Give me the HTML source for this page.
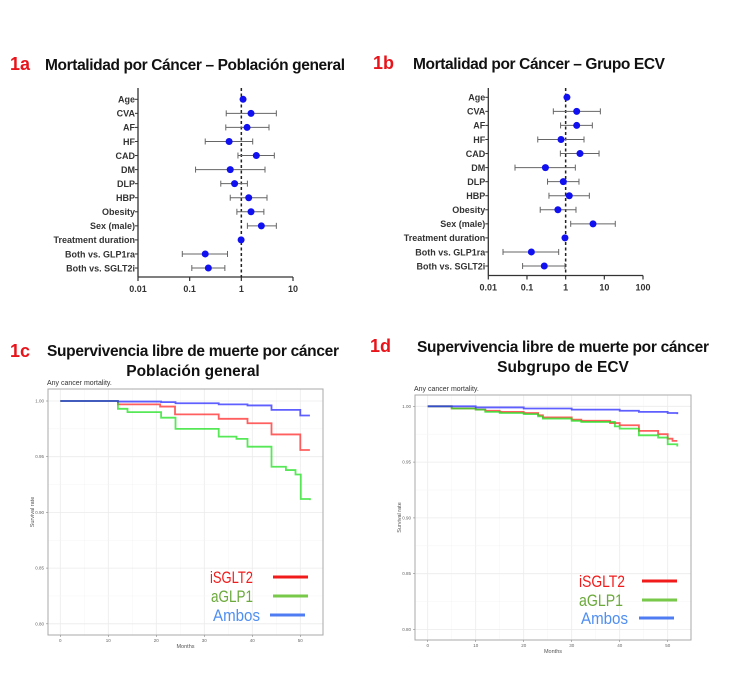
<!DOCTYPE html>
<html><head><meta charset="utf-8">
<style>
html,body{margin:0;padding:0;background:#fff;}
svg{display:block;font-family:"Liberation Sans",sans-serif;}
</style></head>
<body>
<svg id="fig" width="750" height="683" viewBox="0 0 750 683" xmlns="http://www.w3.org/2000/svg">
<g>
<text x="10" y="70" font-size="18" font-weight="bold" fill="#e8141b">1a</text>
<text x="45" y="70" font-size="15.5" font-weight="bold" fill="#111" textLength="300">Mortalidad por Cáncer – Población general</text>
</g>
<g>
<text x="373" y="69" font-size="18" font-weight="bold" fill="#e8141b">1b</text>
<text x="413" y="69" font-size="15.5" font-weight="bold" fill="#111" textLength="252">Mortalidad por Cáncer – Grupo ECV</text>
</g>
<g>
<text x="10" y="357" font-size="18" font-weight="bold" fill="#e8141b">1c</text>
<text x="193" y="356" font-size="15.5" font-weight="bold" fill="#111" text-anchor="middle" textLength="292">Supervivencia libre de muerte por cáncer</text>
<text x="193" y="376" font-size="15.5" font-weight="bold" fill="#111" text-anchor="middle">Población general</text>
</g>
<g>
<text x="370" y="352" font-size="18" font-weight="bold" fill="#e8141b">1d</text>
<text x="563" y="352" font-size="15.5" font-weight="bold" fill="#111" text-anchor="middle" textLength="292">Supervivencia libre de muerte por cáncer</text>
<text x="563" y="372" font-size="15.5" font-weight="bold" fill="#111" text-anchor="middle">Subgrupo de ECV</text>
</g>
<g id="g1a"></g>
<g id="g1b"></g>
<g id="g1c"></g>
<g id="g1d"></g>
</svg>
<script>
const NS="http://www.w3.org/2000/svg";
const labels=["Age","CVA","AF","HF","CAD","DM","DLP","HBP","Obesity","Sex (male)","Treatment duration","Both vs. GLP1ra","Both vs. SGLT2i"];
const hrA=[1.08,1.54,1.29,0.58,1.95,0.61,0.74,1.39,1.54,2.44,0.99,0.20,0.23];
const loA=[null,0.51,0.50,0.20,0.86,0.13,0.40,0.61,0.82,1.31,null,0.072,0.11];
const hiA=[null,4.76,3.43,1.66,4.35,2.87,1.31,3.14,2.73,4.76,null,0.54,0.48];
const ticksA=["0.01","0.1","1","10"];
const hrB=[1.08,1.93,1.93,0.76,2.35,0.30,0.87,1.24,0.63,5.1,0.96,0.13,0.28];
const loB=[null,0.48,0.74,0.19,0.73,0.049,0.34,0.37,0.22,1.35,null,0.024,0.077];
const hiB=[null,7.9,4.9,2.98,7.3,1.78,2.21,4.1,1.85,19.2,null,0.66,0.96];
const ticksB=["0.01","0.1","1","10","100"];
// KM 1c
const tRedC=[0,12,20.8,23.9,33,39,44,50,52];
const sRedC=[1,0.997,0.995,0.988,0.984,0.980,0.970,0.956,0.956];
const tGreenC=[0,12,14,21,24,33,36.7,39,44,47,49,50.1,52];
const sGreenC=[1,0.993,0.990,0.985,0.975,0.968,0.966,0.959,0.941,0.938,0.934,0.912,0.911];
const tBlueC=[0,12,21,24,33,39,44,50,52];
const sBlueC=[1,0.9995,0.999,0.998,0.997,0.996,0.992,0.987,0.987];
// KM 1d
const tRedD=[0,5,10,12,15,20,23,24,30,32,38,40,44,48,50,51,52];
const sRedD=[1,0.998,0.997,0.996,0.995,0.994,0.992,0.990,0.988,0.987,0.985,0.983,0.978,0.975,0.971,0.969,0.969];
const tGreenD=[0,5,10,12,15,20,23,24,30,32,39,40,44,48,50,52];
const sGreenD=[1,0.998,0.997,0.995,0.994,0.993,0.991,0.989,0.987,0.986,0.982,0.980,0.974,0.972,0.966,0.964];
const tBlueD=[0,10,20,30,40,44,50,52];
const sBlueD=[1,0.999,0.998,0.997,0.996,0.995,0.994,0.993];
const kmYTicks=["1.00","0.95","0.90","0.85","0.80"];
const kmXTicks=[0,10,20,30,40,50];

function el(p,tag,attrs,txt){const e=document.createElementNS(NS,tag);for(const k in attrs)e.setAttribute(k,attrs[k]);if(txt!=null)e.textContent=txt;p.appendChild(e);return e;}

function forest(id,hr,lo,hi,ticks,o){
  const g=document.getElementById(id);
  const dec=(o.x1-o.x0)/(ticks.length-1);
  const xs=v=>o.x0+(Math.log10(v)+2)*dec;
  const ys=i=>o.yTop+i*o.dy;
  let a=el(g,'line',{x1:o.x0,y1:o.axTop,x2:o.x0,y2:o.axY,stroke:'#333','stroke-width':1.3});
  
  a=el(g,'line',{x1:o.x0,y1:o.axY,x2:o.x1,y2:o.axY,stroke:'#333','stroke-width':1.3});
  
  ticks.forEach((t,i)=>{const x=xs(parseFloat(t));
    el(g,'line',{x1:x,y1:o.axY,x2:x,y2:o.axY+4,stroke:'#333','stroke-width':1.2});
    const tx=el(g,'text',{x:x,y:o.axY+15,'font-size':9,'font-weight':'bold','text-anchor':'middle',fill:'#333'},t);
    });
  const ref=el(g,'line',{x1:xs(1),y1:o.axTop,x2:xs(1),y2:o.axY,stroke:'#222','stroke-width':1.5,'stroke-dasharray':'3,2.5'});
  
  labels.forEach((l,i)=>{const y=ys(i);
    el(g,'line',{x1:o.x0-3,y1:y,x2:o.x0,y2:y,stroke:'#333','stroke-width':1});
    const t=el(g,'text',{x:o.x0-3,y:y+3.3,'font-size':9,'font-weight':'bold','text-anchor':'end',fill:'#333'},l);
    
    if(lo[i]!=null){const ci=el(g,'g',{stroke:'#666','stroke-width':1});
      
      el(ci,'line',{x1:xs(lo[i]),y1:y,x2:xs(hi[i]),y2:y});
      el(ci,'line',{x1:xs(lo[i]),y1:y-3,x2:xs(lo[i]),y2:y+3});
      el(ci,'line',{x1:xs(hi[i]),y1:y-3,x2:xs(hi[i]),y2:y+3});}
    const c=el(g,'circle',{cx:xs(hr[i]),cy:y,r:3.5,fill:'#1010f0'});
    
  });
}
forest('g1a',hrA,loA,hiA,ticksA,{x0:138,x1:293,yTop:99.3,dy:14.06,axTop:88,axY:277});
forest('g1b',hrB,loB,hiB,ticksB,{x0:488.3,x1:643,yTop:97.3,dy:14.06,axTop:88,axY:275.5});

function km(id,o,series){
  const g=document.getElementById(id);
  const xs=t=>o.xz+t*o.px;
  const ys=v=>o.y100+(1-v)/0.05*o.py;
  const sub=el(g,'text',{x:o.bx0-1,y:o.by0-4,'font-size':7,fill:'#333'},'Any cancer mortality.');
  
  for(let i=-0.5;i<=5;i+=0.5){const x=xs(i*10);if(x<o.bx0||x>o.bx1)continue;
    el(g,'line',{x1:x,y1:o.by0,x2:x,y2:o.by1,stroke:i%1?'#f4f4f4':'#ebebeb','stroke-width':i%1?0.5:0.8});}
  for(let i=0;i<=8;i++){const y=o.y100+i*o.py/2;
    el(g,'line',{x1:o.bx0,y1:y,x2:o.bx1,y2:y,stroke:i%2?'#f4f4f4':'#ebebeb','stroke-width':i%2?0.5:0.8});}
  const box=el(g,'rect',{x:o.bx0,y:o.by0,width:o.bx1-o.bx0,height:o.by1-o.by0,fill:'none',stroke:'#aaa','stroke-width':1});
  
  kmYTicks.forEach(t=>{const y=ys(parseFloat(t));
    el(g,'line',{x1:o.bx0-2,y1:y,x2:o.bx0,y2:y,stroke:'#888','stroke-width':0.6});
    const tx=el(g,'text',{x:o.bx0-4,y:y+1.5,'font-size':4.5,'text-anchor':'end',fill:'#666'},t);
    });
  kmXTicks.forEach(t=>{const x=xs(t);
    el(g,'line',{x1:x,y1:o.by1,x2:x,y2:o.by1+2,stroke:'#888','stroke-width':0.6});
    const tx=el(g,'text',{x:x,y:o.by1+7,'font-size':4.5,'text-anchor':'middle',fill:'#666'},String(t));
    });
  const xl=el(g,'text',{x:(o.bx0+o.bx1)/2,y:o.by1+13,'font-size':5.5,'text-anchor':'middle',fill:'#555'},'Months');
  
  const ym=(o.by0+o.by1)/2;
  const yl=el(g,'text',{x:o.bx0-14,y:ym,'font-size':5.5,'text-anchor':'middle',fill:'#555',transform:`rotate(-90 ${o.bx0-14} ${ym})`},'Survival rate');
  
  series.forEach(s=>{let d='';
    s.t.forEach((t,i)=>{const x=xs(t),y=ys(s.s[i]);
      if(i===0)d='M'+x+' '+y;else d+=' H'+x+' V'+y;});
    const p=el(g,'path',{d:d,fill:'none',stroke:s.c,'stroke-width':1.8,'stroke-opacity':0.75});
    });
  const lg=el(g,'g',{});
  
  o.leg.forEach(L=>{
    const t=el(lg,'text',{x:L.x,y:L.y+6,'font-size':17,fill:L.c,textLength:L.w,lengthAdjust:'spacingAndGlyphs'},L.t);
    
    el(lg,'line',{x1:L.l0,y1:L.y,x2:L.l1,y2:L.y,stroke:L.lc,'stroke-width':3});});
}
km('g1c',{xz:60.3,px:4.8,y100:401,py:55.7,bx0:48,bx1:323,by0:389,by1:635,
  leg:[{t:'iSGLT2',x:210,y:577,w:43,c:'#f21b1b',lc:'#f21b1b',l0:273,l1:308},
       {t:'aGLP1',x:211,y:596,w:42,c:'#6aa93a',lc:'#78c94a',l0:273,l1:308},
       {t:'Ambos',x:213,y:615,w:47,c:'#4f8ef2',lc:'#4f7cf2',l0:270,l1:305}]},
  [{n:'curve-isglt2',t:tRedC,s:sRedC,c:'#ff2a2a'},{n:'curve-aglp1',t:tGreenC,s:sGreenC,c:'#1fe01f'},{n:'curve-ambos',t:tBlueC,s:sBlueC,c:'#2a2aff'}]);
km('g1d',{xz:427.7,px:4.8,y100:406.3,py:55.8,bx0:415,bx1:691,by0:395,by1:640,
  leg:[{t:'iSGLT2',x:579,y:581,w:46,c:'#f21b1b',lc:'#f21b1b',l0:642,l1:677},
       {t:'aGLP1',x:579,y:600,w:44,c:'#6aa93a',lc:'#78c94a',l0:642,l1:677},
       {t:'Ambos',x:581,y:618,w:47,c:'#4f8ef2',lc:'#4f7cf2',l0:639,l1:674}]},
  [{n:'curve-isglt2',t:tRedD,s:sRedD,c:'#ff2a2a'},{n:'curve-aglp1',t:tGreenD,s:sGreenD,c:'#1fe01f'},{n:'curve-ambos',t:tBlueD,s:sBlueD,c:'#2a2aff'}]);
</script>
</body></html>
